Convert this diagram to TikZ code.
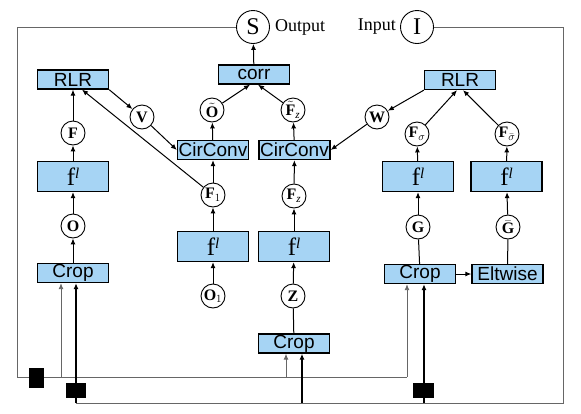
\documentclass[tikz,border=0pt]{standalone}
\usepackage{fontspec}
\setmainfont{Liberation Serif}
\setsansfont{Liberation Sans}
\usetikzlibrary{arrows.meta}
\definecolor{boxblue}{RGB}{166,212,244}
\begin{document}
\begin{tikzpicture}[x=1pt, y=-1pt,
    blk/.style={draw, line width=1.3pt, fill=boxblue, inner sep=0pt, minimum height=19pt, minimum width=71pt, font=\sffamily\fontsize{19}{19}\selectfont},
    fblk/.style={blk, minimum height=30pt, font=\fontsize{25}{25}\selectfont},
    var/.style={circle, draw, line width=0.9pt, fill=white, minimum size=24pt, inner sep=0pt, font=\bfseries\fontsize{16}{16}\selectfont},
    big/.style={circle, draw, line width=0.9pt, minimum size=33pt, inner sep=0pt, font=\fontsize{24}{24}\selectfont},
    arr/.style={-{Latex[length=6pt,width=5pt]}, line width=1pt},
    fb/.style={black!60, line width=0.9pt},
    inp/.style={line width=1.4pt},
    delay/.style={fill=black, inner sep=0pt}]
        \useasboundingbox (0,0) rectangle (581,413);
        \node[big] (S) at (253,27) {S};
        \node[big] (I) at (417,27) {I};
        \node[anchor=west, font=\fontsize{18}{18}\selectfont, inner sep=1pt] (outL) at ([xshift=4pt]S.east) {Output};
        \node[anchor=east, font=\fontsize{18}{18}\selectfont, inner sep=1pt] (inL) at ([xshift=-3pt]I.west) {Input};
        \node[blk] (corr) at (254,74.5) {corr};
        \node[blk] (rlrL) at (73,79.5) {RLR};
        \node[blk] (rlrR) at (460,80) {RLR};
        \node[blk] (ccL) at (213,150) {CirConv};
        \node[blk] (ccR) at (294.5,150) {CirConv};
        \node[fblk] (flA) at (73,176.5) {f\raisebox{7pt}{\fontsize{15}{15}\selectfont\textit{l}}};
        \node[fblk] (flB) at (213,246.5) {f\raisebox{7pt}{\fontsize{15}{15}\selectfont\textit{l}}};
        \node[fblk] (flC) at (294,246.5) {f\raisebox{7pt}{\fontsize{15}{15}\selectfont\textit{l}}};
        \node[fblk] (flD) at (418,176.5) {f\raisebox{7pt}{\fontsize{15}{15}\selectfont\textit{l}}};
        \node[fblk] (flE) at (506.5,176.5) {f\raisebox{7pt}{\fontsize{15}{15}\selectfont\textit{l}}};
        \node[blk] (cropL) at (73,273) {Crop};
        \node[blk] (cropM) at (294,343.5) {Crop};
        \node[blk] (cropR) at (420,274) {Crop};
        \node[blk] (elt) at (507.5,274) {Eltwise};
        \node[var] (nF) at (73,133) {F};
        \node[var] (nV) at (142,117) {V};
        \node[var] (nOt) at (212,110) {$\tilde{\textbf{O}}$};
        \node[var] (nFzt) at (293,110) {$\tilde{\textbf{F}}_{\mathit{z}}$};
        \node[var] (nF1) at (213,195) {$\textbf{F}_{1}$};
        \node[var] (nFz) at (294,196) {$\textbf{F}_{\mathit{z}}$};
        \node[var] (nO) at (73,226) {O};
        \node[var] (nO1) at (213,296) {$\textbf{O}_{1}$};
        \node[var] (nZ) at (293,296) {Z};
        \node[var] (nW) at (377,117) {W};
        \node[var] (nFs) at (417,134) {$\textbf{F}_{\sigma}$};
        \node[var] (nFsb) at (507,134) {$\textbf{F}_{\bar{\sigma}}$};
        \node[var] (nG) at (418,227) {G};
        \node[var] (nGb) at (508,227) {$\bar{\textbf{G}}$};
        \draw[arr] (corr) -- (S);
        \draw[arr] (nOt) -- ([xshift=-4pt]corr.south);
        \draw[arr] (nFzt) -- ([xshift=4pt]corr.south);
        \draw[arr] (ccL) -- (nOt);
        \draw[arr] (ccR) -- (nFzt);
        \draw[arr] (nF1) -- (ccL);
        \draw[arr] (nFz) -- (ccR);
        \draw[arr] (flB) -- (nF1);
        \draw[arr] (flC) -- (nFz);
        \draw[arr] (nO1) -- (flB);
        \draw[arr] (nZ) -- (flC);
        \draw[line width=1pt] (cropM) -- (nZ);
        \draw[arr] (nF1) -- ([xshift=9pt]rlrL.south);
        \draw[arr] (rlrL.south east) -- (nV);
        \draw[arr] (nV) -- (ccL.west);
        \draw[arr] (rlrR.south west) -- (nW);
        \draw[arr] (nW) -- (ccR.east);
        \draw[arr] (nF) -- (rlrL);
        \draw[arr] (flA) -- (nF);
        \draw[arr] (nO) -- (flA);
        \draw[arr] (cropL) -- (nO);
        \draw[arr] (nFs) -- ([xshift=-3pt]rlrR.south);
        \draw[arr] (nFsb) -- ([xshift=3pt]rlrR.south);
        \draw[arr] (flD) -- (nFs);
        \draw[arr] (flE) -- (nFsb);
        \draw[arr] (nG) -- (flD);
        \draw[arr] (nGb) -- (flE);
        \draw[line width=1pt] (cropR) -- (nG);
        \draw[line width=1pt] (elt) -- (nGb);
        \draw[arr] (cropR) -- (elt);
        \coordinate (oTL) at (17,27);
        \coordinate (oBL) at (17,377);
        \coordinate (fbL) at (61,377);
        \coordinate (fbM) at (286,377);
        \coordinate (fbR) at (407,377);
        \coordinate (iTR) at (563,27);
        \coordinate (iBR) at (563,403);
        \coordinate (tapL) at (76,403);
        \coordinate (tapM) at (302,403);
        \coordinate (tapR) at (424,403);
        \draw[fb] (S.west) -- (oTL) -- (oBL) -- (fbR);
        \draw[fb, arr, line width=0.9pt] (fbL) -- (fbL |- cropL.south);
        \draw[fb, arr, line width=0.9pt] (fbM) -- (fbM |- cropM.south);
        \draw[fb, arr, line width=0.9pt] (fbR) -- (fbR |- cropR.south);
        \draw[fb] (I.east) -- (iTR) -- (iBR) -- (tapL);
        \draw[inp, arr, line width=1.4pt] (tapL) -- (tapL |- cropL.south);
        \draw[inp, arr, line width=1.4pt] (tapM) -- (tapM |- cropM.south);
        \draw[inp, arr, line width=1.4pt] (tapR) -- (tapR |- cropR.south);
        \node[delay, minimum width=15pt, minimum height=20pt] (dS) at (36.5,378) {};
        \node[delay, minimum width=20pt, minimum height=15pt] (dL) at (76,390.5) {};
        \node[delay, minimum width=21pt, minimum height=15pt] (dR) at (423.5,390.5) {};
\end{tikzpicture}
\end{document}
